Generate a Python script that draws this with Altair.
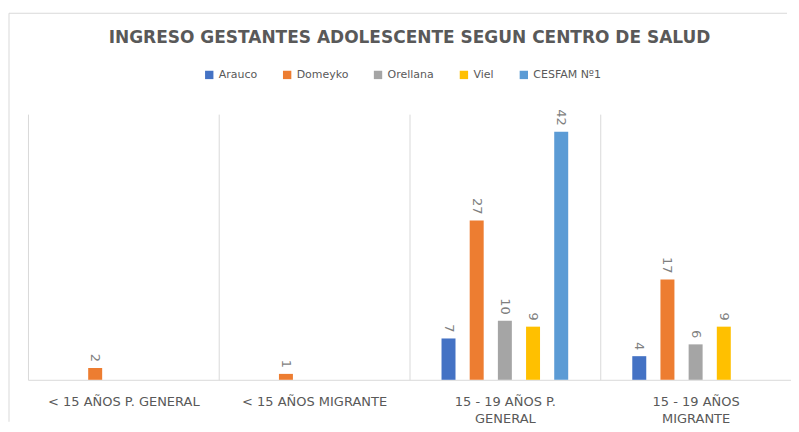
import altair as alt
import pandas as pd

# ---- data -------------------------------------------------------------
TITLE = "INGRESO GESTANTES ADOLESCENTE SEGUN CENTRO DE SALUD"
categories = ["< 15 AÑOS P. GENERAL", "< 15 AÑOS MIGRANTE",
              "15 - 19 AÑOS P. GENERAL", "15 - 19 AÑOS MIGRANTE"]
label_lines = {
    "15 - 19 AÑOS P. GENERAL": ["15 - 19 AÑOS P.", "GENERAL"],
    "15 - 19 AÑOS MIGRANTE": ["15 - 19 AÑOS", "MIGRANTE"],
}
series = ["Arauco", "Domeyko", "Orellana", "Viel", "CESFAM Nº1"]
arauco = [0, 0, 7, 4]
domeyko = [2, 1, 27, 17]
orellana = [0, 0, 10, 6]
viel = [0, 0, 9, 9]
cesfam = [0, 0, 42, 0]
colors = ["#4472C4", "#ED7D31", "#A5A5A5", "#FFC000", "#5B9BD5"]

values = [arauco, domeyko, orellana, viel, cesfam]
rows = []
for s, vals in zip(series, values):
    for c, v in zip(categories, vals):
        rows.append({"categoria": c, "serie": s, "valor": v})
df = pd.DataFrame(rows)

W, H = 764, 266
GRAY = "#595959"

# label expression for wrapped category labels
expr = "datum.value"
for k, lines in label_lines.items():
    arr = "[" + ", ".join("'" + l + "'" for l in lines) + "]"
    expr = f"datum.value == '{k}' ? {arr} : ({expr})"

x_enc = alt.X(
    "categoria:N", sort=categories,
    scale=alt.Scale(paddingInner=0, paddingOuter=0),
    axis=alt.Axis(title=None, labelAngle=0, ticks=False, grid=True,
                  tickBand="extent", gridColor="#d9d9d9",
                  domainColor="#d9d9d9", labelColor=GRAY,
                  labelFont="DejaVu Sans", labelFontSize=13,
                  labelPadding=16, labelLineHeight=17, labelLimit=0,
                  labelExpr=expr),
)
y_enc = alt.Y("valor:Q", scale=alt.Scale(domain=[0, 45]), axis=None)
xo_enc = alt.XOffset("serie:N", sort=series,
                     scale=alt.Scale(domain=series, paddingInner=0.23,
                                     paddingOuter=1))

base = alt.Chart(df)

bars = base.mark_bar(width=14).encode(
    x=x_enc, y=y_enc, xOffset=xo_enc,
    color=alt.Color(
        "serie:N", sort=series,
        scale=alt.Scale(domain=series, range=colors),
        legend=alt.Legend(title=None, orient="none", direction="horizontal",
                          legendX=176, legendY=-45,
                          symbolType="square", symbolSize=70,
                          symbolStrokeWidth=0, labelColor=GRAY,
                          labelFont="DejaVu Sans", labelFontSize=11,
                          labelOffset=4, columnPadding=24),
    ),
)

labels = base.transform_filter("datum.valor > 0").mark_text(
    angle=90, align="right", baseline="middle", dx=-6,
    color="#7f7f7f", font="DejaVu Sans", fontSize=13,
).encode(x=x_enc, y=y_enc, xOffset=xo_enc, text="valor:Q")

one = pd.DataFrame({"t": [TITLE]})
title = alt.Chart(one).mark_text(
    font="DejaVu Sans", fontSize=17, fontWeight="bold", color=GRAY,
    align="center", baseline="middle",
).encode(text="t:N", x=alt.value(382), y=alt.value(-76))

border_top = alt.Chart(one).mark_rule(color="#d9d9d9", strokeWidth=1).encode(
    x=alt.value(-19), x2=alt.value(760), y=alt.value(-101))
border_left = alt.Chart(one).mark_rule(color="#d9d9d9", strokeWidth=1).encode(
    x=alt.value(-19), y=alt.value(-101), y2=alt.value(308))

chart = alt.layer(bars, labels, title, border_top, border_left).properties(
    width=W, height=H,
    padding={"left": 0, "top": 4, "right": 0, "bottom": 0},
).configure_view(stroke=None)

chart.save("out.html", embed_options={"renderer": "svg", "actions": False})
